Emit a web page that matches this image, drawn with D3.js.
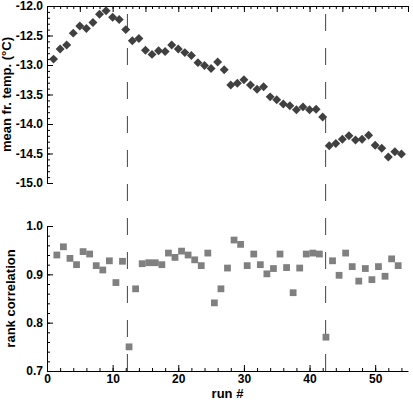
<!DOCTYPE html>
<html>
<head>
<meta charset="utf-8">
<script src="https://cdn.jsdelivr.net/npm/d3@7"></script>
<style>
  body { margin: 0; background: #fff; }
  svg text { font-family: "Liberation Sans", Arial, Helvetica, sans-serif; font-weight: bold; fill: #000; }
</style>
</head>
<body>
<svg id="chart" width="413" height="402"></svg>
<script>
// mean freezing temperature per run (top panel)
var meanTemp = [
  -12.90, -12.73, -12.66, -12.46, -12.34, -12.38, -12.28, -12.14, -12.08, -12.19,
  -12.23, -12.40, -12.59, -12.55, -12.75, -12.82, -12.76, -12.77, -12.66, -12.73,
  -12.79, -12.84, -12.96, -13.01, -13.06, -12.95, -13.08, -13.34, -13.31, -13.25,
  -13.34, -13.41, -13.37, -13.54, -13.59, -13.66, -13.69, -13.76, -13.71, -13.76,
  -13.75, -13.88, -14.37, -14.33, -14.26, -14.20, -14.27, -14.26, -14.19, -14.36,
  -14.41, -14.56, -14.47, -14.51
];

// rank correlation between run n and run n+1 (bottom panel)
var rankCorr = [
  0.940, 0.957, 0.933, 0.920, 0.947, 0.942, 0.918, 0.909, 0.928, 0.883,
  0.927, 0.750, 0.870, 0.922, 0.924, 0.924, 0.920, 0.944, 0.935, 0.948,
  0.940, 0.930, 0.918, 0.944, 0.841, 0.870, 0.913, 0.971, 0.962, 0.918,
  0.942, 0.920, 0.901, 0.912, 0.942, 0.914, 0.862, 0.913, 0.942, 0.944,
  0.942, 0.770, 0.928, 0.898, 0.944, 0.916, 0.886, 0.912, 0.889, 0.916,
  0.896, 0.932, 0.918
];

// run numbers where the dashed break lines sit
var breaks = [12.25, 42.45];

var tempTicks = [-15.0, -14.5, -14.0, -13.5, -13.0, -12.5, -12.0];
var corrTicks = [0.7, 0.8, 0.9, 1.0];
var runTicks = [0, 10, 20, 30, 40, 50];

var svg = d3.select("#chart");

// scales
var x = d3.scaleLinear().domain([0, 55]).range([47, 408]);
var yTop = d3.scaleLinear().domain([-15, -12]).range([183, 6]);
var yBot = d3.scaleLinear().domain([0.7, 1.0]).range([371, 226]);

// helper: draw an axis with inward ticks, then strip its domain path if asked
function drawAxis(g, axis, keepDomain) {
    g.call(axis);
    g.selectAll("text").style("font-size", "12px");
    g.selectAll("line").attr("stroke", "#000");
    g.select(".domain").attr("stroke", "#000");
    if (!keepDomain) g.select(".domain").remove();
}

// ---- dashed break lines (under the marks) ----
svg.append("g").attr("class", "breaks")
    .selectAll("line")
    .data(breaks)
    .enter().append("line")
    .attr("x1", function (d) { return x(d); })
    .attr("x2", function (d) { return x(d); })
    .attr("y1", 14)
    .attr("y2", yBot(0.7))
    .attr("stroke", "#444")
    .attr("stroke-width", 1)
    .attr("stroke-dasharray", "17,17");

// ---- top panel axes ----
drawAxis(svg.append("g").attr("transform", "translate(" + x(0) + ",0)"),
    d3.axisLeft(yTop).tickValues(d3.range(-15, -11.99, 0.1))
        .tickSizeInner(-3).tickSizeOuter(0).tickFormat(""), true);
drawAxis(svg.append("g").attr("transform", "translate(" + x(0) + ",0)"),
    d3.axisLeft(yTop).tickValues(tempTicks).tickSizeInner(-6).tickSizeOuter(0)
        .tickPadding(4).tickFormat(function (d) { return d.toFixed(1); }), false);

drawAxis(svg.append("g").attr("transform", "translate(0," + yTop(-12) + ")"),
    d3.axisTop(x).tickValues(d3.range(0, 56, 1)).tickSizeInner(-3).tickSizeOuter(0)
        .tickFormat(""), true);
drawAxis(svg.append("g").attr("transform", "translate(0," + yTop(-12) + ")"),
    d3.axisTop(x).tickValues(d3.range(0, 56, 5)).tickSizeInner(-6).tickSizeOuter(0)
        .tickFormat(""), false);

// ---- bottom panel axes ----
drawAxis(svg.append("g").attr("transform", "translate(" + x(0) + ",0)"),
    d3.axisLeft(yBot).tickValues(d3.range(0.7, 1.0001, 0.02)).tickSizeInner(-3)
        .tickSizeOuter(0).tickFormat(""), true);
drawAxis(svg.append("g").attr("transform", "translate(" + x(0) + ",0)"),
    d3.axisLeft(yBot).tickValues(corrTicks).tickSizeInner(-6).tickSizeOuter(0)
        .tickPadding(4).tickFormat(function (d) { return d.toFixed(1); }), false);

drawAxis(svg.append("g").attr("transform", "translate(0," + yBot(0.7) + ")"),
    d3.axisBottom(x).tickValues(d3.range(0, 55, 2)).tickSizeInner(-3).tickSizeOuter(0)
        .tickFormat(""), true);
drawAxis(svg.append("g").attr("transform", "translate(0," + yBot(0.7) + ")"),
    d3.axisBottom(x).tickValues(runTicks).tickSizeInner(-6).tickSizeOuter(0)
        .tickPadding(3).tickFormat(d3.format("d")), false);

// ---- marks ----
var diamond = d3.symbol().type(d3.symbolSquare).size(40);
svg.append("g").attr("class", "temps")
    .selectAll("path")
    .data(meanTemp)
    .enter().append("path")
    .attr("d", diamond)
    .attr("transform", function (d, i) {
        return "translate(" + x(i + 1) + "," + yTop(d) + ") rotate(45)";
    })
    .attr("fill", "#404040");

var square = d3.symbol().type(d3.symbolSquare).size(46);
svg.append("g").attr("class", "corr")
    .selectAll("path")
    .data(rankCorr)
    .enter().append("path")
    .attr("d", square)
    .attr("transform", function (d, i) {
        // midpoint between run i+1 and run i+2
        return "translate(" + x(i + 1.5) + "," + yBot(d) + ")";
    })
    .attr("fill", "#808080");

// ---- axis titles ----
svg.append("text")
    .attr("transform", "translate(11," + ((yTop(-12) + yTop(-15)) / 2) + ") rotate(-90)")
    .attr("text-anchor", "middle")
    .style("font-size", "13px")
    .text("mean fr. temp. (°C)");

svg.append("text")
    .attr("transform", "translate(15," + ((yBot(1.0) + yBot(0.7)) / 2) + ") rotate(-90)")
    .attr("text-anchor", "middle")
    .style("font-size", "13px")
    .text("rank correlation");

svg.append("text")
    .attr("x", (x(0) + x(55)) / 2)
    .attr("y", 398)
    .attr("text-anchor", "middle")
    .style("font-size", "13px")
    .text("run #");
</script>
</body>
</html>
